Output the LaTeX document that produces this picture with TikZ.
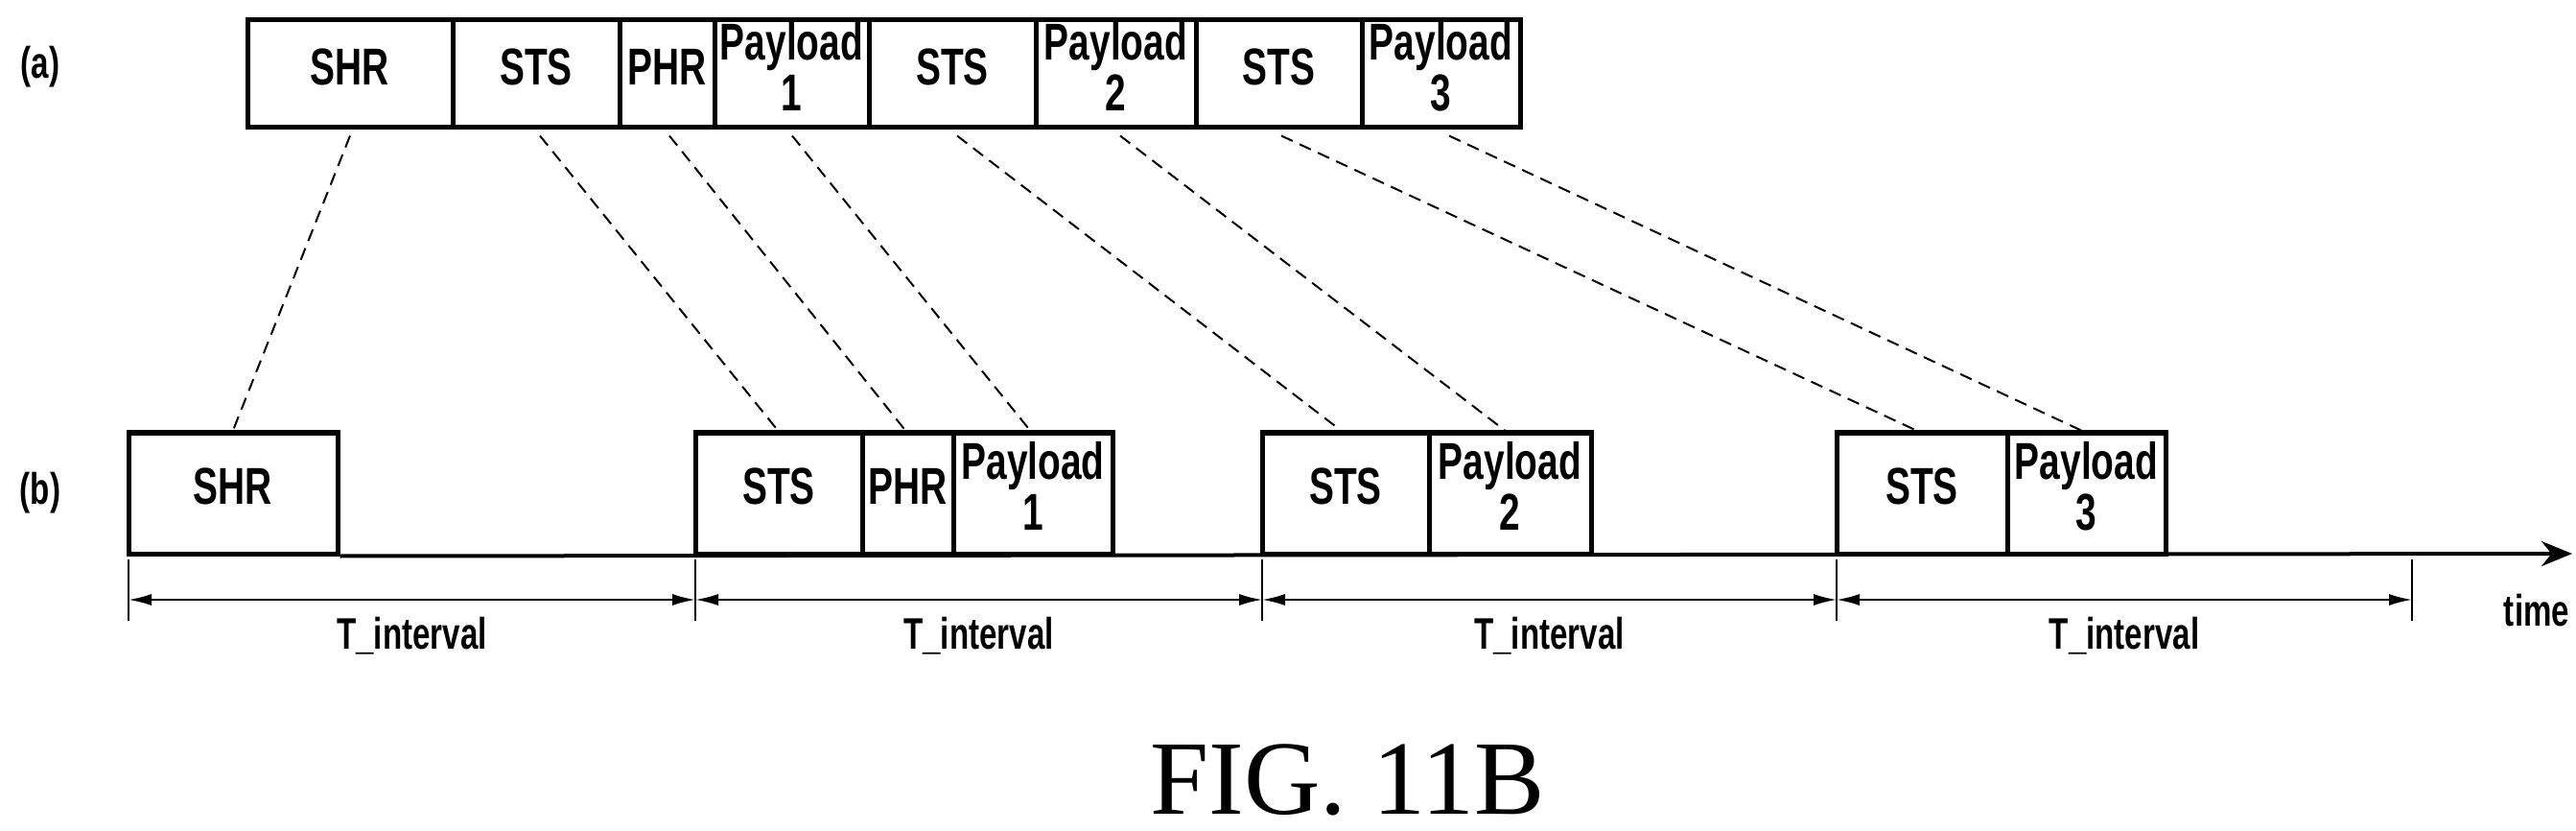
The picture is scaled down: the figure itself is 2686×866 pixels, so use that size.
\documentclass[tikz,border=0pt]{standalone}
\usepackage{fontspec}
\setmainfont{Liberation Serif}
\newfontfamily\lab{Liberation Sans}
\usetikzlibrary{arrows.meta,calc}
\newcommand{\lb}[1]{\scalebox{0.72}[1]{#1}}
\begin{document}
\begin{tikzpicture}[x=1pt,y=-1pt,
  box/.style={draw,line width=5pt,inner sep=0pt,font=\lab\bfseries\fontsize{54}{50}\selectfont,align=center},
  con/.style={line width=2pt,dash pattern=on 13pt off 8pt},
  dim/.style={line width=2pt,{Latex[length=24pt,width=12pt]}-{Latex[length=24pt,width=12pt]}},
  tick/.style={line width=1.5pt},
  txt/.style={font=\lab\bfseries\fontsize{46}{46}\selectfont}]
\useasboundingbox (0,0) rectangle (2686,866);
% row (a)
\def\ya{77}\def\ha{112}
\foreach \n/\l/\r/\t in {aSHR/258/472/SHR,aSTS1/472/646/STS,aPHR/646/745/PHR,aP1/745/906/{Payload\\1},aSTS2/906/1080/STS,aP2/1080/1247/{Payload\\2},aSTS3/1247/1420/STS,aP3/1420/1585/{Payload\\3}}
  \node[box,minimum width=\r-\l,minimum height=\ha] (\n) at ({(\l+\r)/2},\ya) {\lb{\begin{tabular}{@{}c@{}}\t\end{tabular}}};
% row (b)
\def\yb{514}\def\hb{126}
\foreach \n/\l/\r/\t in {bSHR/134/352/SHR,bSTS1/725/899/STS,bPHR/899/994/PHR,bP1/994/1160/{Payload\\1},bSTS2/1316/1490/STS,bP2/1490/1659/{Payload\\2},bSTS3/1915/2093/STS,bP3/2093/2258/{Payload\\3}}
  \node[box,minimum width=\r-\l,minimum height=\hb] (\n) at ({(\l+\r)/2},\yb) {\lb{\begin{tabular}{@{}c@{}}\t\end{tabular}}};
\node[txt] (la) at (42,70) {\lb{(a)}};
\node[txt] (lbb) at (42,514) {\lb{(b)}};
% axis
\coordinate (t0) at (134,577);\coordinate (t1) at (725,577);\coordinate (t2) at (1316,577);
\coordinate (t3) at (1915,577);\coordinate (t4) at (2515,577);\coordinate (tend) at (2682,577);
\draw[line width=4pt,-{Stealth[length=32pt,width=26pt]}] (bSHR.south east) -- (tend);
\foreach \i in {0,...,4} \draw[tick] ([yshift=-6pt]t\i) -- ([yshift=-70pt]t\i);
\foreach \i/\j in {0/1,1/2,2/3,3/4}{
  \draw[dim] ([yshift=-48pt]t\i) -- ([yshift=-48pt]t\j);
  \node[txt] at ($([yshift=-86pt]t\i)!0.5!([yshift=-86pt]t\j)$) {\lb{T\_interval}};}
\node[txt] (time) at (2645,636) {\lb{time}};
\node[font=\fontsize{110}{110}\selectfont,inner sep=0pt,anchor=base] (fig) at (1405,848) {FIG. 11B};
% connectors
\foreach \a/\xa/\b/\xb in {aSHR/365/bSHR/243,aSTS1/563/bSTS1/811,aPHR/698/bPHR/944,aP1/826/bP1/1074,aSTS2/998/bSTS2/1398,aP2/1168/bP2/1569,aSTS3/1336/bSTS3/1998,aP3/1511/bP3/2170}
  \draw[con] (\a.south -| \xa,0) ++(0,6) -- (\b.north -| \xb,0);
\end{tikzpicture}
\end{document}
